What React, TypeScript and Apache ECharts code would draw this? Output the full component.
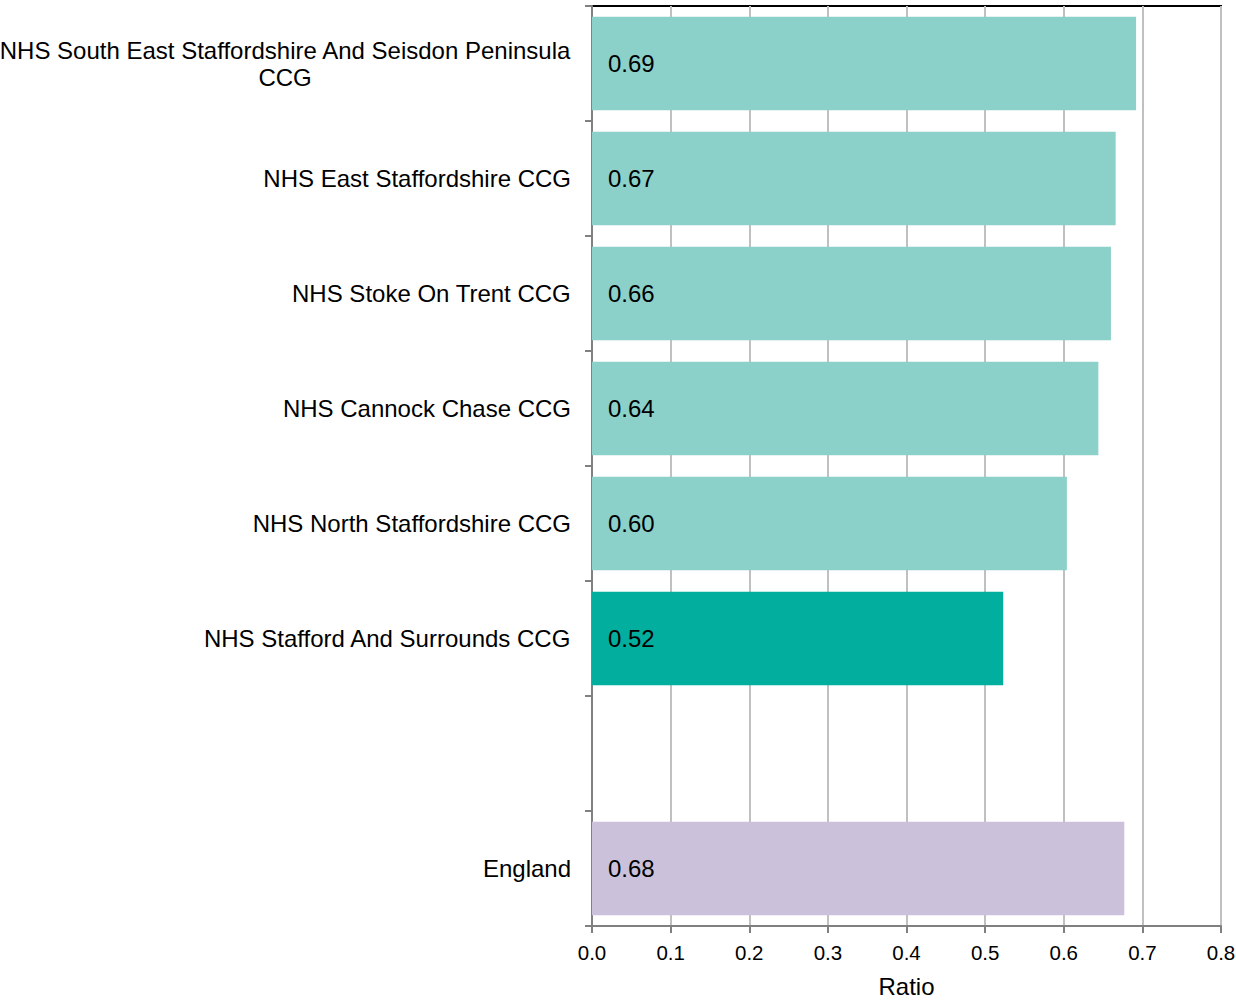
import React, { useEffect, useRef } from "react";
import * as echarts from "echarts";

const categories = [
  "NHS South East Staffordshire And Seisdon Peninsula\nCCG",
  "NHS East Staffordshire CCG",
  "NHS Stoke On Trent CCG",
  "NHS Cannock Chase CCG",
  "NHS North Staffordshire CCG",
  "NHS Stafford And Surrounds CCG",
  "",
  "England",
];
const values: (number | null)[] = [0.692, 0.666, 0.66, 0.644, 0.604, 0.523, null, 0.677];
const valueLabels = ["0.69", "0.67", "0.66", "0.64", "0.60", "0.52", "", "0.68"];
const barColors = ["#8BD0C9", "#8BD0C9", "#8BD0C9", "#8BD0C9", "#8BD0C9", "#02AE9E", "#8BD0C9", "#CBC1DB"];
const xTicks = [0, 0.1, 0.2, 0.3, 0.4, 0.5, 0.6, 0.7, 0.8];

export default function App() {
  const ref = useRef<HTMLDivElement>(null);
  useEffect(() => {
    if (!ref.current) return;
    const chart = echarts.init(ref.current, null, { renderer: "svg" });
    const font = "Liberation Sans, Arial, sans-serif";
    chart.setOption({
      animation: false,
      backgroundColor: "#ffffff",
      grid: {
        left: 592,
        right: 15,
        top: 6,
        bottom: 74,
        show: true,
        outerBoundsMode: "none",
        containLabel: false,
        borderColor: "#000000",
        borderWidth: 2,
        backgroundColor: "transparent",
      },
      xAxis: {
        type: "value",
        min: xTicks[0],
        max: xTicks[xTicks.length - 1],
        interval: 0.1,
        name: "Ratio",
        nameLocation: "middle",
        nameGap: 48,
        nameTextStyle: { fontFamily: font, fontSize: 24, color: "#000" },
        axisLine: { show: true, lineStyle: { color: "#808080", width: 2 } },
        axisTick: { show: true, length: 7, lineStyle: { color: "#808080", width: 2 } },
        axisLabel: {
          fontFamily: font,
          fontSize: 20.5,
          color: "#000",
          margin: 16,
          formatter: (v: number) => v.toFixed(1),
        },
        splitLine: { show: true, lineStyle: { color: "#c0c0c0", width: 2 } },
      },
      yAxis: {
        type: "category",
        inverse: true,
        data: categories,
        axisLine: { show: true, lineStyle: { color: "#808080", width: 2 } },
        axisTick: { show: true, length: 7, lineStyle: { color: "#808080", width: 2 } },
        axisLabel: {
          margin: 21,
          interval: 0,
          formatter: (v: string) => (v ? "{c|" + v + "}" : ""),
          rich: {
            c: {
              fontFamily: font,
              fontSize: 24,
              color: "#000",
              align: "center",
              lineHeight: 27,
            },
          },
        },
        splitLine: { show: false },
      },
      series: [
        {
          type: "bar",
          barCategoryGap: "18.5%",
          data: values.map((v, i) => ({
            value: v,
            itemStyle: { color: barColors[i] },
          })),
          label: {
            show: true,
            position: "insideLeft",
            distance: 16,
            fontFamily: font,
            fontSize: 24,
            color: "#000",
            formatter: (p: any) => valueLabels[p.dataIndex],
          },
        },
      ],
    });
    return () => chart.dispose();
  }, []);
  return (
    <div
      ref={ref}
      style={{ position: "fixed", left: 0, top: 0, width: 1236, height: 1000 }}
    />
  );
}
